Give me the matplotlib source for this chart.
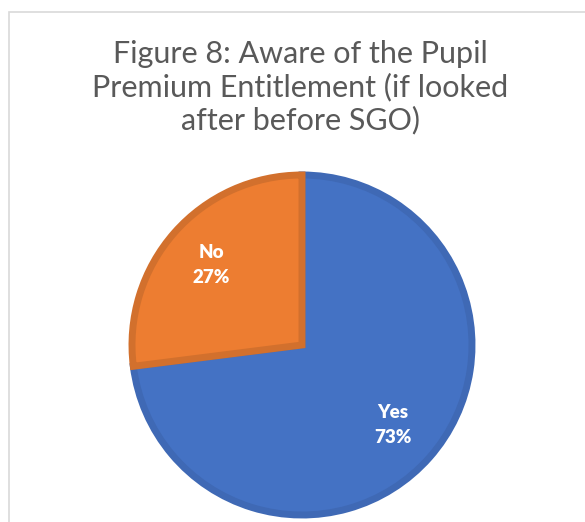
import matplotlib.pyplot as plt
from matplotlib.patches import Rectangle

categories = ['Yes', 'No']
shares = [73, 27]
colours = ['#4472C4', '#ED7D31']
edges = ['#3F69B5', '#D2702D']

fig = plt.figure(figsize=(5.85, 5.22), dpi=100)

# light chart-area frame, like the Excel export
fig.patches.append(Rectangle((9 / 585, -0.1), 1.2, 1.1 - 12 / 522,
                             transform=fig.transFigure, fill=False,
                             edgecolor='#D9D9D9', linewidth=1.2))

fig.text(0.513, 0.833, 'Figure 8: Aware of the Pupil\nPremium Entitlement (if looked\nafter before SGO)',
         ha='center', va='center', fontsize=22, color='#595959',
         family='Lato', linespacing=1.2)

ax = fig.add_axes([132 / 585, 7 / 522, 340 / 585, 340 / 522])
labels = ['{}\n{}%'.format(c, s) for c, s in zip(categories, shares)]
wedges, texts = ax.pie(shares, labels=labels, colors=colours, startangle=90,
                       counterclock=False, labeldistance=0.71,
                       wedgeprops=dict(linewidth=5),
                       textprops=dict(color='white', fontweight='heavy',
                                      fontsize=13.5, ha='center', va='center',
                                      family='Lato', linespacing=1.6))
for w, e in zip(wedges, edges):
    w.set_edgecolor(e)
for t in texts:
    t.set_horizontalalignment('center')
ax.set_xlim(-1.0, 1.0)
ax.set_ylim(-1.0, 1.0)
ax.set_aspect('equal')

plt.savefig('out.png', dpi=100)
